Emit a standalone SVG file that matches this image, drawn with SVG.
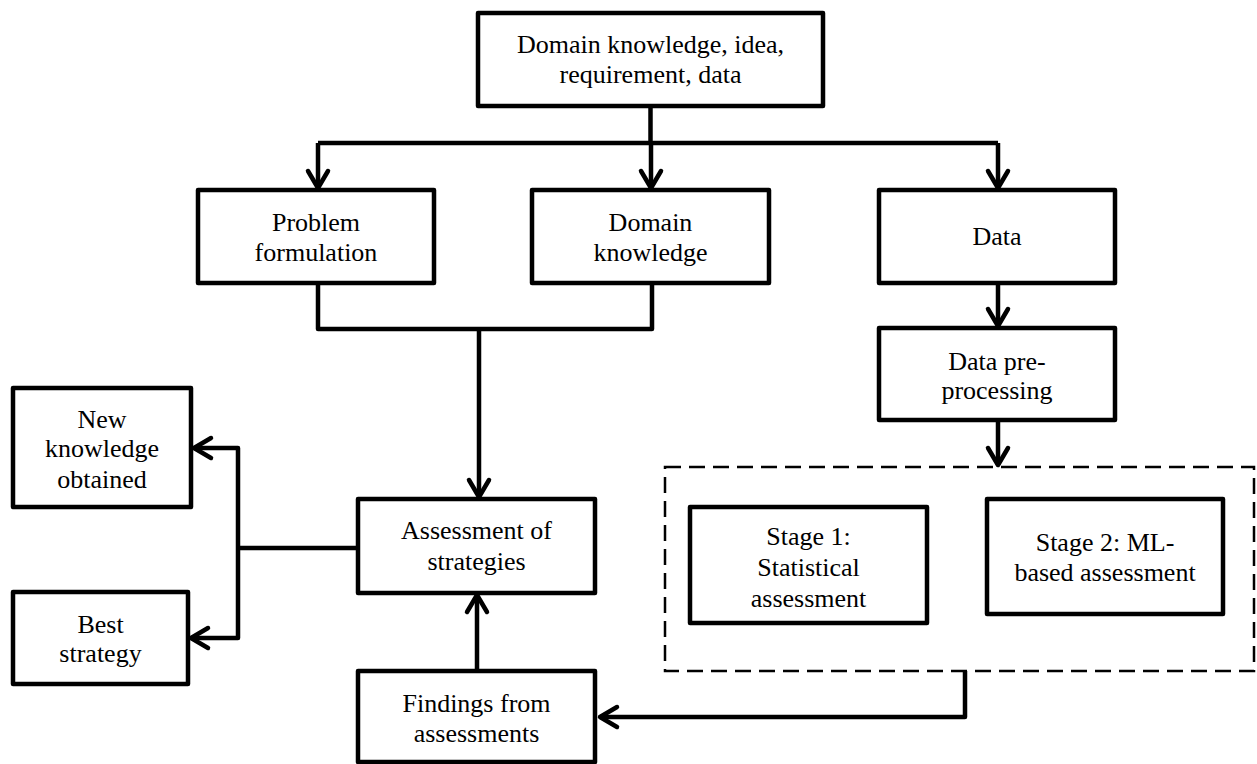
<svg xmlns="http://www.w3.org/2000/svg" width="1257" height="764" viewBox="0 0 1257 764">
<defs>
<style>
.box{fill:#fff;stroke:#000;stroke-width:4.5;stroke-linejoin:round}
.dash{fill:none;stroke:#000;stroke-width:2.5;stroke-dasharray:16 8}
.c{fill:none;stroke:#000;stroke-width:4.5;stroke-linejoin:round}
.t{font-family:"Liberation Serif","Times New Roman",serif;font-size:26px;fill:#000;text-anchor:middle}
</style>
<marker id="ah" markerUnits="userSpaceOnUse" markerWidth="30" markerHeight="30" viewBox="-22 -15 30 30" refX="0" refY="0" orient="auto" overflow="visible">
<path d="M-17,-10 L0,0 L-17,10" fill="none" stroke="#000" stroke-width="4.5" stroke-linecap="round" stroke-linejoin="round"/>
</marker>
</defs>
<rect width="1257" height="764" fill="#fff"/>
<g id="connectors">
<path class="c" d="M650.5 106 V143"/>
<path class="c" d="M318 143 H998"/>
<path class="c" d="M318 143 V188" marker-end="url(#ah)"/>
<path class="c" d="M651 143 V188" marker-end="url(#ah)"/>
<path class="c" d="M998 143 V188" marker-end="url(#ah)"/>
<path class="c" d="M318 283 V329 H652 V283"/>
<path class="c" d="M479 329 V497" marker-end="url(#ah)"/>
<path class="c" d="M998 283 V326" marker-end="url(#ah)"/>
<path class="c" d="M998 420 V465" marker-end="url(#ah)"/>
<path class="c" d="M965 671 V717 H600" marker-end="url(#ah)"/>
<path class="c" d="M477 671 V595" marker-end="url(#ah)"/>
<path class="c" d="M358 548 H238"/>
<path class="c" d="M238 548 V448 H194" marker-end="url(#ah)"/>
<path class="c" d="M238 548 V638 H191" marker-end="url(#ah)"/>
</g>
<g id="stage-group">
<rect class="dash" x="665" y="467" width="589" height="204"/>
</g>
<g id="n-top">
<rect class="box" x="478" y="13" width="345" height="93"/>
<text class="t" x="650.5" y="53">Domain knowledge, idea,</text>
<text class="t" x="650.5" y="83">requirement, data</text>
</g>
<g id="n-problem">
<rect class="box" x="198" y="190" width="236" height="93"/>
<text class="t" x="316" y="231">Problem</text>
<text class="t" x="316" y="261">formulation</text>
</g>
<g id="n-domain">
<rect class="box" x="532" y="190" width="237" height="93"/>
<text class="t" x="650.5" y="231">Domain</text>
<text class="t" x="650.5" y="261">knowledge</text>
</g>
<g id="n-data">
<rect class="box" x="879" y="190" width="236" height="93"/>
<text class="t" x="997" y="245">Data</text>
</g>
<g id="n-preproc">
<rect class="box" x="879" y="328" width="236" height="92"/>
<text class="t" x="997" y="370">Data pre-</text>
<text class="t" x="997" y="399">processing</text>
</g>
<g id="n-stage1">
<rect class="box" x="690" y="507" width="237" height="116"/>
<text class="t" x="808.5" y="545">Stage 1:</text>
<text class="t" x="808.5" y="576">Statistical</text>
<text class="t" x="808.5" y="607">assessment</text>
</g>
<g id="n-stage2">
<rect class="box" x="987" y="499" width="236" height="115"/>
<text class="t" x="1105" y="551">Stage 2: ML-</text>
<text class="t" x="1105" y="581">based assessment</text>
</g>
<g id="n-assess">
<rect class="box" x="358" y="499" width="237" height="94"/>
<text class="t" x="476.5" y="539">Assessment of</text>
<text class="t" x="476.5" y="570">strategies</text>
</g>
<g id="n-findings">
<rect class="box" x="358" y="671" width="237" height="91"/>
<text class="t" x="476.5" y="712">Findings from</text>
<text class="t" x="476.5" y="742">assessments</text>
</g>
<g id="n-newknow">
<rect class="box" x="13" y="388" width="178" height="119"/>
<text class="t" x="102" y="428">New</text>
<text class="t" x="102" y="457">knowledge</text>
<text class="t" x="102" y="488">obtained</text>
</g>
<g id="n-best">
<rect class="box" x="13" y="592" width="175" height="92"/>
<text class="t" x="100.5" y="633">Best</text>
<text class="t" x="100.5" y="662">strategy</text>
</g>
</svg>
